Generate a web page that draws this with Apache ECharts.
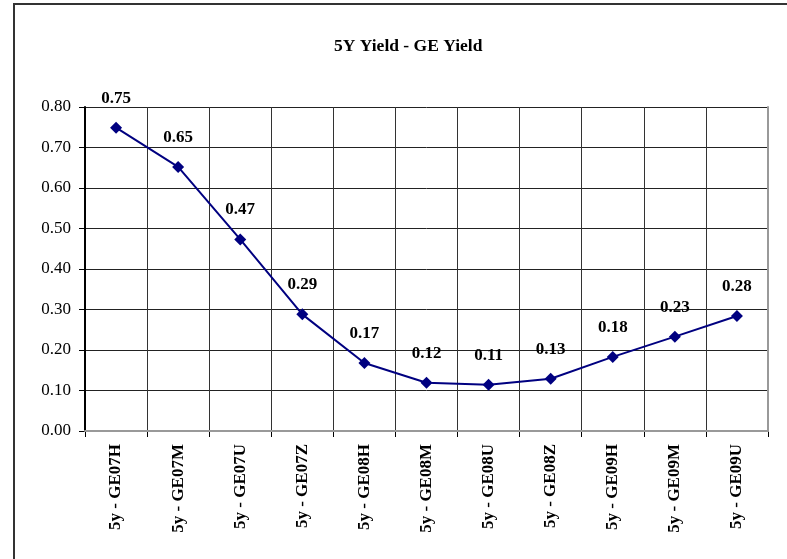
<!DOCTYPE html>
<html>
<head>
<meta charset="utf-8">
<script src="https://cdn.jsdelivr.net/npm/echarts@6/dist/echarts.min.js"></script>
<style>
  html, body { margin: 0; padding: 0; background: #fff; }
  #wrap { position: relative; width: 787px; height: 559px; }
  #frame { position: absolute; left: 13px; top: 3px; right: -5px; bottom: -5px;
           border-left: 2px solid #333; border-top: 2px solid #333; }
  #chart { position: absolute; left: 0; top: 0; width: 787px; height: 559px; }
</style>
</head>
<body>
<div id="wrap">
  <div id="frame"></div>
  <div id="chart"></div>
</div>
<script>
var titleText = '5Y Yield - GE Yield';
var categories = ['5y - GE07H', '5y - GE07M', '5y - GE07U', '5y - GE07Z', '5y - GE08H',
  '5y - GE08M', '5y - GE08U', '5y - GE08Z', '5y - GE09H', '5y - GE09M', '5y - GE09U'];
var spread = [0.749, 0.652, 0.473, 0.288, 0.168, 0.119, 0.114, 0.129, 0.183, 0.233, 0.284];

var FONT = '"Liberation Serif", "DejaVu Serif", serif';

var myChart = echarts.init(document.getElementById('chart'));
var option = {
  backgroundColor: 'transparent',
  animation: false,
  title: {
    text: titleText,
    left: 329,
    top: 32,
    textStyle: { fontFamily: FONT, fontSize: 17.5, fontWeight: 'bold', color: '#000' }
  },
  grid: { left: 85, right: 19, top: 107, bottom: 128, containLabel: false },
  xAxis: [{
    type: 'category',
    data: categories,
    boundaryGap: true,
    axisLine: { lineStyle: { color: '#000', width: 2 } },
    axisTick: { show: true, length: 6, inside: false, lineStyle: { color: '#000' } },
    axisLabel: {
      rotate: 90, margin: 13, color: '#000',
      fontFamily: FONT, fontSize: 17, fontWeight: 'bold', interval: 0
    },
    splitLine: { show: true, lineStyle: { color: '#333', width: 1 } }
  }, {
    type: 'category',
    position: 'top',
    data: categories,
    z: 4,
    axisLine: { show: true, lineStyle: { color: '#999', width: 2 } },
    axisTick: { show: false },
    axisLabel: { show: false },
    splitLine: { show: false }
  }],
  yAxis: [{
    type: 'value',
    min: 0,
    max: 0.8,
    interval: 0.1,
    axisLine: { show: true, lineStyle: { color: '#000', width: 2 } },
    axisTick: { show: true, length: 6, lineStyle: { color: '#000' } },
    axisLabel: {
      margin: 14, color: '#000', fontFamily: FONT, fontSize: 17,
      formatter: function (v) { return v.toFixed(2); }
    },
    splitLine: { show: true, lineStyle: { color: '#222', width: 1 } }
  }, {
    type: 'value',
    position: 'right',
    min: 0,
    max: 0.8,
    interval: 0.1,
    z: 4,
    axisLine: { show: true, lineStyle: { color: '#999', width: 2 } },
    axisTick: { show: false },
    axisLabel: { show: false },
    splitLine: { show: false }
  }],
  series: [{
    type: 'line',
    data: spread,
    symbol: 'diamond',
    symbolSize: 12,
    lineStyle: { color: '#000080', width: 2 },
    itemStyle: { color: '#000080' },
    label: {
      show: true,
      position: 'top',
      distance: 15,
      color: '#000',
      fontFamily: FONT,
      fontSize: 17,
      fontWeight: 'bold',
      formatter: function (p) { return p.value.toFixed(2); }
    },
    z: 5
  }]
};
if (option && typeof option === "object") {
  myChart.setOption(option, true);
}
</script>
</body>
</html>
